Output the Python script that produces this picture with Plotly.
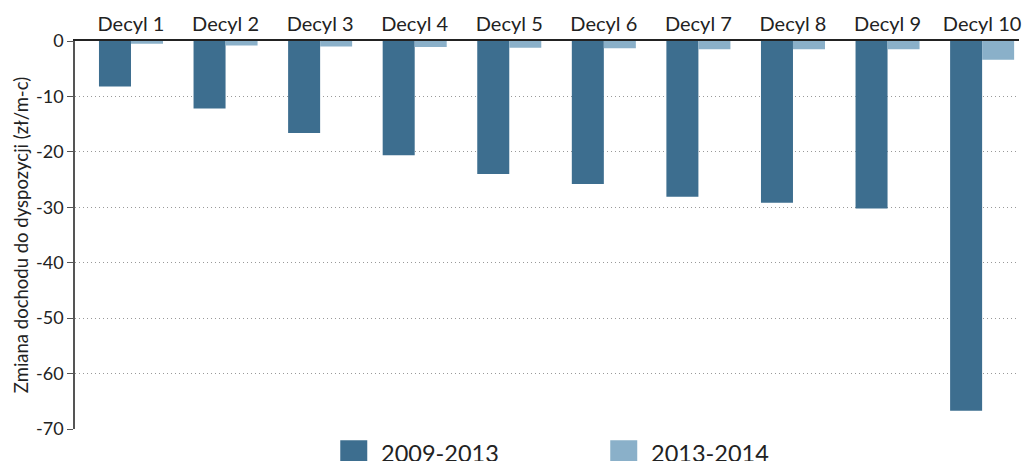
import plotly.graph_objects as go

categories = [f"Decyl {i}" for i in range(1, 11)]
s1_name = "2009-2013"
s2_name = "2013-2014"
s1_values = [-8.2, -12.2, -16.6, -20.6, -24.0, -25.8, -28.1, -29.2, -30.2, -66.7]
s2_values = [-0.5, -0.8, -1.0, -1.1, -1.2, -1.3, -1.5, -1.5, -1.5, -3.4]
y_ticks = [0, -10, -20, -30, -40, -50, -60, -70]
y_tick_text = ["0", "-10", "-20", "-30", "-40", "-50", "-60", "-70"]

dark = "#3D6E8F"
light = "#8AB0C9"
font_family = "Lato, 'Open Sans', sans-serif"

fig = go.Figure()
fig.add_trace(go.Bar(x=categories, y=s1_values, name=s1_name, marker_color=dark,
                     marker_line_width=0, showlegend=False))
fig.add_trace(go.Bar(x=categories, y=s2_values, name=s2_name, marker_color=light,
                     marker_line_width=0, showlegend=False))

# custom legend (large square swatches)
legend_items = [(s1_name, dark, 0.281), (s2_name, light, 0.567)]
for name, col, x0 in legend_items:
    fig.add_shape(type="rect", xref="paper", yref="paper",
                  x0=x0, x1=x0 + 0.0286, y0=-0.029, y1=-0.1,
                  fillcolor=col, line_width=0)
    fig.add_annotation(xref="paper", yref="paper", x=x0 + 0.041, y=-0.063,
                       text=name, showarrow=False, xanchor="left", yanchor="middle",
                       font=dict(size=23.5, color="#222", family=font_family))

fig.update_layout(
    width=1026, height=461,
    margin=dict(l=75, r=7, t=41, b=32, autoexpand=False),
    paper_bgcolor="white", plot_bgcolor="white",
    barmode="group", bargap=0.323, bargroupgap=0,
    font=dict(family=font_family, color="#222"),
    xaxis=dict(side="top", range=[-0.592, 9.39], showline=True, linecolor="#222",
               linewidth=1.5, ticks="", showgrid=False, automargin=False,
               tickfont=dict(size=20, color="#222")),
    yaxis=dict(range=[-70, 0], tickvals=y_ticks, ticktext=y_tick_text,
               showline=True, linecolor="#555", automargin=False,
               linewidth=1.5, ticks="outside", ticklen=6, tickcolor="#555",
               showgrid=True, gridcolor="#999", griddash="1px,3px", gridwidth=1,
               zeroline=False, tickfont=dict(size=18, color="#222"),
               title=dict(text="Zmiana dochodu do dyspozycji (zł/m-c)",
                          font=dict(size=18.5, color="#222"), standoff=3)),
)

fig.write_html(
    "out.html",
    config={"displayModeBar": False},
    post_script="document.body.style.margin='0';document.body.style.overflow='hidden';",
)
